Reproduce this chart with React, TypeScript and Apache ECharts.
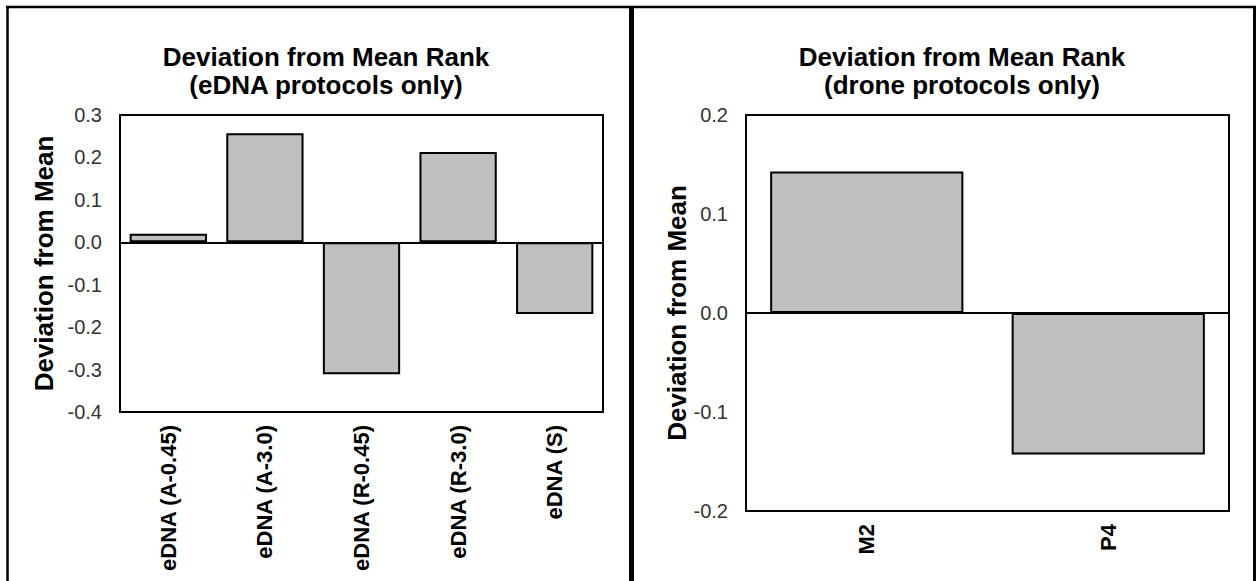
import React, { useEffect, useRef } from "react";
import * as echarts from "echarts";

const ednaCategories = ["eDNA (A-0.45)", "eDNA (A-3.0)", "eDNA (R-0.45)", "eDNA (R-3.0)", "eDNA (S)"];
const ednaValues = [0.02, 0.257, -0.311, 0.213, -0.169];
const droneCategories = ["M2", "P4"];
const droneValues = [0.143, -0.143];
const ednaAxisRange = [-0.4, 0.3];
const droneAxisRange = [-0.2, 0.2];
const tickStep = 0.1;

const titles = [
  "Deviation from Mean Rank\n(eDNA protocols only)",
  "Deviation from Mean Rank\n(drone protocols only)",
];
const yAxisTitle = "Deviation from Mean";

const FONT = "'Liberation Sans', Arial, sans-serif";

export default function App() {
  const ref = useRef<HTMLDivElement>(null);
  useEffect(() => {
    document.body.style.margin = "0";
    const chart = echarts.init(ref.current!, undefined, { renderer: "svg" });
    const barSeries = (xi: number, data: number[]) => ({
      type: "bar",
      xAxisIndex: xi,
      yAxisIndex: xi,
      data,
      barCategoryGap: "20%",
      itemStyle: { color: "#bfbfbf", borderColor: "#000", borderWidth: 2 },
      markLine: {
        silent: true,
        symbol: "none",
        label: { show: false },
        lineStyle: { color: "#000", width: 2, type: "solid" },
        data: [{ yAxis: 0 }],
      },
    });
    const yAxis = (gi: number, range: number[], gap: number) => ({
      type: "value",
      gridIndex: gi,
      min: range[0],
      max: range[1],
      interval: tickStep,
      name: yAxisTitle,
      nameLocation: "middle",
      nameRotate: 90,
      nameGap: gap,
      nameTextStyle: { fontFamily: FONT, fontWeight: "bold", fontSize: 26, color: "#000" },
      axisLine: { show: false },
      axisTick: { show: false },
      splitLine: { show: false },
      axisLabel: {
        fontFamily: FONT,
        fontSize: 20,
        color: "#333",
        margin: 18,
        formatter: (v: number) => v.toFixed(1),
      },
    });
    const xAxis = (gi: number, cats: string[]) => ({
      type: "category",
      gridIndex: gi,
      data: cats,
      axisLine: { show: false },
      axisTick: { show: false },
      splitLine: { show: false },
      axisLabel: {
        rotate: 90,
        interval: 0,
        margin: 13,
        fontFamily: FONT,
        fontWeight: "bold",
        fontSize: 22,
        color: "#000",
      },
    });
    const border = (x1: number, y1: number, x2: number, y2: number, w: number) => ({
      type: "line",
      shape: { x1, y1, x2, y2 },
      style: { stroke: "#000", lineWidth: w },
      silent: true,
    });
    const titleStyle = { fontFamily: FONT, fontWeight: "bold", fontSize: 26, lineHeight: 28, color: "#000" };
    chart.setOption({
      animation: false,
      backgroundColor: "#fff",
      title: [
        { text: titles[0], left: 321, top: 38, textAlign: "center", textStyle: titleStyle },
        { text: titles[1], left: 957, top: 38, textAlign: "center", textStyle: titleStyle },
      ],
      grid: [
        { left: 120, top: 115, width: 483, height: 297, show: true, borderColor: "#000", borderWidth: 2, backgroundColor: "transparent" },
        { left: 746, top: 115, width: 483, height: 396, show: true, borderColor: "#000", borderWidth: 2, backgroundColor: "transparent" },
      ],
      xAxis: [xAxis(0, ednaCategories), xAxis(1, droneCategories)],
      yAxis: [yAxis(0, ednaAxisRange, 63), yAxis(1, droneAxisRange, 56)],
      series: [barSeries(0, ednaValues), barSeries(1, droneValues)],
      graphic: [
        border(6, 7, 1256, 7, 2.5),
        border(7.5, 6, 7.5, 581, 2.5),
        border(1254.5, 6, 1254.5, 581, 3),
        border(631.5, 6, 631.5, 581, 5),
      ],
    });
    return () => chart.dispose();
  }, []);
  return (
    <div
      ref={ref}
      style={{ position: "absolute", left: 0, top: 0, width: 1260, height: 581 }}
    />
  );
}
